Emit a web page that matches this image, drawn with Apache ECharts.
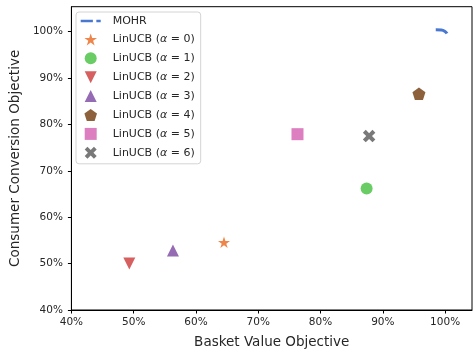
<!DOCTYPE html>
<html>
<head>
<meta charset="utf-8">
<script src="https://cdn.jsdelivr.net/npm/echarts@6/dist/echarts.min.js"></script>
<style>
html,body{margin:0;padding:0;background:#fff;}
#chart{width:473px;height:354px;}
</style>
</head>
<body>
<div id="chart"></div>
<script>
// ---- data ----
const xTicks = [40, 50, 60, 70, 80, 90, 100];
const yTicks = [40, 50, 60, 70, 80, 90, 100];
const mohrBasket = [98.5, 99.4, 100.0, 100.3];
const mohrConversion = [100.4, 100.35, 100.05, 99.6];
const alphas = [0, 1, 2, 3, 4, 5, 6];
const linucbBasket = [64.5, 87.4, 49.3, 56.3, 95.8, 76.3, 87.8];
const linucbConversion = [54.6, 66.2, 50.0, 52.8, 86.6, 77.9, 77.5];

// ---- styles ----
const colors = ['#ee854a', '#6acc64', '#d65f5f', '#956cb4', '#8c613c', '#dc7ec0', '#797979'];
function poly(pts) {
  return 'path://' + pts.map((p, i) => (i ? 'L' : 'M') + p[0].toFixed(3) + ',' + p[1].toFixed(3)).join(' ') + ' Z';
}
function starPts() {
  const pts = [];
  for (let i = 0; i < 10; i++) {
    const r = i % 2 === 0 ? 1 : 0.382;
    const a = -Math.PI / 2 + i * Math.PI / 5;
    pts.push([r * Math.cos(a) * 100, r * Math.sin(a) * 100]);
  }
  return pts;
}
function pentPts() {
  const pts = [];
  for (let i = 0; i < 5; i++) {
    const a = -Math.PI / 2 + i * 2 * Math.PI / 5;
    pts.push([Math.cos(a) * 100, Math.sin(a) * 100]);
  }
  return pts;
}
function xPts() {
  const w = 0.3, base = [[-w, -1], [w, -1], [w, -w], [1, -w], [1, w], [w, w], [w, 1], [-w, 1], [-w, w], [-1, w], [-1, -w], [-w, -w]];
  const c = Math.SQRT1_2;
  return base.map(p => [(p[0] * c - p[1] * c) * 100, (p[0] * c + p[1] * c) * 100]);
}
const symbols = [poly(starPts()), 'circle', 'path://M0,0 L200,0 L100,200 Z', 'path://M100,0 L200,200 L0,200 Z', poly(pentPts()), 'path://M0,0 L100,0 L100,100 L0,100 Z', poly(xPts())];
const sizes = [[12, 11.5], 12, [12, 12], [12, 12], [13, 12.4], 12, [12.5, 12.5]];

const names = alphas.map(a => 'LinUCB (α = ' + a + ')');
const series = [{
  name: 'MOHR',
  type: 'line',
  data: mohrBasket.map((x, i) => [x, mohrConversion[i]]),
  smooth: 0.5,
  showSymbol: false,
  lineStyle: { color: '#4878d0', width: 3, type: [16, 4], cap: 'butt' },
  itemStyle: { color: '#4878d0' },
  z: 3
}];
alphas.forEach((a, i) => {
  series.push({
    name: names[i],
    type: 'scatter',
    data: [[linucbBasket[i], linucbConversion[i]]],
    symbol: symbols[i],
    symbolSize: sizes[i],
    itemStyle: { color: colors[i], opacity: 1 },
    z: 4
  });
});

const axisFont = { fontFamily: 'DejaVu Sans', fontSize: 10.5, color: '#262626' };
const chart = echarts.init(document.getElementById('chart'), null, { renderer: 'canvas' });
chart.setOption({
  animation: false,
  backgroundColor: '#fff',
  grid: { left: 70, top: 6.7, width: 402, height: 304, show: true, borderColor: '#000', borderWidth: 1, backgroundColor: 'transparent' },
  xAxis: {
    type: 'value', min: 40, max: 104.32,
    name: 'Basket Value Objective', nameLocation: 'middle', nameGap: 25,
    nameTextStyle: { fontFamily: 'DejaVu Sans', fontSize: 13.5, color: '#262626' },
    axisLine: { show: true, lineStyle: { color: '#000', width: 1 } },
    axisTick: { show: true, length: 3.5, lineStyle: { color: '#000' }, customValues: xTicks },
    axisLabel: Object.assign({ margin: 7, formatter: v => v + '%', customValues: xTicks }, axisFont),
    splitLine: { show: false }
  },
  yAxis: {
    type: 'value', min: 40, max: 105.38,
    name: 'Consumer Conversion Objective', nameLocation: 'middle', nameGap: 45,
    nameTextStyle: { fontFamily: 'DejaVu Sans', fontSize: 13.5, color: '#262626' },
    axisLine: { show: true, lineStyle: { color: '#000', width: 1 } },
    axisTick: { show: true, length: 3.5, lineStyle: { color: '#000' }, customValues: yTicks },
    axisLabel: Object.assign({ margin: 8.5, formatter: v => v + '%', customValues: yTicks }, axisFont),
    splitLine: { show: false }
  },
  legend: {
    orient: 'vertical', left: 76, top: 12,
    padding: [3.5, 6, 5, 4.7],
    itemWidth: 20, itemHeight: 12, itemGap: 6.9,
    backgroundColor: 'rgba(255,255,255,0.85)',
    borderColor: '#d4d4d4', borderWidth: 1, borderRadius: 3,
    data: [{ name: 'MOHR', icon: 'path://M0,0 L14,0 L14,3 L0,3 Z M18,0 L23,0 L23,3 L18,3 Z' }]
      .concat(names.map((n, i) => ({ name: n, icon: symbols[i] }))),
    textStyle: { fontFamily: 'DejaVu Sans', fontSize: 11, color: '#262626', padding: [0, 0, 0, 7],
      rich: { a: { fontFamily: 'DejaVu Sans', fontSize: 11, color: '#262626', fontStyle: 'italic' } } },
    formatter: function (n) {
      return n.indexOf('α') >= 0 ? n.replace('α', '{a|α}') : n;
    }
  },
  series: series
});
</script>
</body>
</html>
